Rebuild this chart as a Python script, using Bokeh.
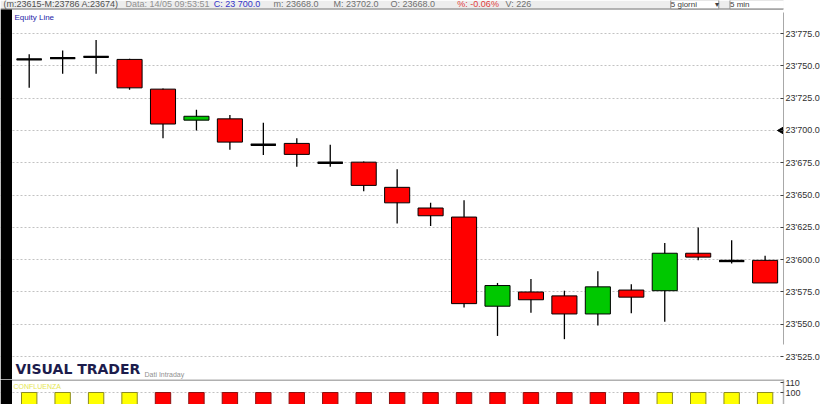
import numpy as np
from bokeh.plotting import figure
from bokeh.layouts import column
from bokeh.models import (ColumnDataSource, FixedTicker, Label, Span, BoxAnnotation, Range1d)
from bokeh.embed import file_html
from bokeh.resources import INLINE

# ---------------- data ----------------
idx = list(range(23))
opens  = [23755, 23756, 23757, 23755, 23732, 23708, 23709, 23689, 23690, 23675, 23675.5, 23656,
          23640, 23633, 23564, 23575, 23572, 23558, 23576.5, 23576, 23605, 23599, 23599.5]
closes = [23755, 23756, 23757, 23733, 23705, 23711, 23691, 23689, 23681.5, 23675, 23657.5, 23644,
          23634, 23566, 23580, 23569, 23558, 23579, 23571, 23605, 23602, 23599, 23582]
highs  = [23759, 23762, 23770, 23755.5, 23732.5, 23716, 23712, 23706, 23694, 23689, 23676, 23670,
          23644, 23646, 23582, 23585, 23576, 23591, 23581, 23613, 23625, 23615, 23603]
lows   = [23733, 23744, 23744, 23731.5, 23694, 23700, 23685, 23681, 23672, 23672, 23653, 23628,
          23626, 23563, 23541, 23559, 23538.5, 23549, 23558.5, 23552, 23599.5, 23597, 23582]
last_price = 23700.0

price_ticks = [23525, 23550, 23575, 23600, 23625, 23650, 23675, 23700, 23725, 23750, 23775]
price_tick_labels = ["23'525.0", "23'550.0", "23'575.0", "23'600.0", "23'625.0", "23'650.0",
                     "23'675.0", "23'700.0", "23'725.0", "23'750.0", "23'775.0"]

conf_values = [100] * 23
conf_state = ["Y", "Y", "Y", "Y", "R", "R", "R", "R", "R", "R", "R", "R", "R", "R", "R", "R",
              "R", "R", "R", "Y", "Y", "Y", "Y"]
conf_ticks = [100, 110]
conf_tick_labels = ["100", "110"]

header_items = [
    ("(m:23615-M:23786 A:23674)", -0.768, "#505050"),
    ("Data: 14/05 09:53:51", 2.88, "#909090"),
    ("C: 23 700.0", 5.515, "#3434c8"),
    ("m: 23668.0", 7.305, "#707070"),
    ("M: 23702.0", 9.1, "#707070"),
    ("O: 23668.0", 10.8, "#707070"),
    ("%: -0.06%", 12.8, "#e03c3c"),
    ("V: 226", 14.24, "#707070"),
]

# ---------------- styles ----------------
RED = "#ff0000"
GREEN = "#00c800"
FONT = "Liberation Sans"
PX = 33.45                      # pixels per candle slot
X0, X1 = -28.7 / PX, 22.55
NB = "\u00a0"

def body_color(o, c):
    if c > o:
        return GREEN
    if c < o:
        return RED
    return "black"

src = ColumnDataSource(dict(
    x=idx, o=opens, c=closes, h=highs, l=lows,
    top=[max(o, c) for o, c in zip(opens, closes)],
    bot=[min(o, c) for o, c in zip(opens, closes)],
    color=[body_color(o, c) for o, c in zip(opens, closes)],
))
doji = [i for i in idx if opens[i] == closes[i]]
doji_src = ColumnDataSource(dict(
    x0=[i - 0.375 for i in doji], x1=[i + 0.375 for i in doji],
    y=[opens[i] for i in doji],
))

p = figure(width=824, height=379, x_range=Range1d(X0, X1), y_range=Range1d(23507.28, 23800.6),
           output_backend="svg", toolbar_location=None, x_axis_location=None,
           y_axis_location="right", min_border_left=0, min_border_top=0,
           min_border_bottom=0, min_border_right=41)
p.outline_line_color = None
p.background_fill_color = "white"
p.border_fill_color = "white"
p.xgrid.visible = False
p.ygrid.ticker = FixedTicker(ticks=price_ticks)
p.ygrid.grid_line_color = "#c2c2c2"
p.ygrid.grid_line_dash = "2 2"
p.ygrid.grid_line_width = 1

ax = p.yaxis[0]
ax.ticker = FixedTicker(ticks=price_ticks)
ax.major_label_overrides = {t: s for t, s in zip(price_ticks, price_tick_labels)}
ax.bounds = (23534, 23791)
ax.major_tick_in = 3
ax.major_tick_out = 0
ax.minor_tick_line_color = None
ax.axis_line_color = "#a8a8a8"
ax.major_tick_line_color = "#404040"
ax.major_label_standoff = 2
ax.major_label_text_font = FONT
ax.major_label_text_font_size = "9px"
ax.major_label_text_color = "#303030"

# header strip
p.add_layout(BoxAnnotation(bottom=23794.0, fill_color="#ededed", fill_alpha=1, line_color=None))
p.add_layout(Span(location=23794.0, dimension="width", line_color="#707070", line_width=1))
for txt, xi, col in header_items:
    p.add_layout(Label(x=xi, y=23797.6, text=txt, text_font=FONT, text_font_size="9px",
                       text_color=col, text_baseline="middle"))
p.add_layout(Label(x=19.18, y=23797.6, text="5 giorni" + NB * 8 + "\u25BE", text_font=FONT,
                   text_font_size="8px", text_color="#404040", text_baseline="middle",
                   background_fill_color="white", border_line_color="#909090"))
p.add_layout(Label(x=20.95, y=23797.6, text="5 min" + NB * 20 + "\u25BE", text_font=FONT,
                   text_font_size="8px", text_color="#404040", text_baseline="middle",
                   background_fill_color="white", border_line_color="#909090"))

# wicks
p.segment(x0="x", x1="x", y0="l", y1="h", source=src, line_color="black", line_width=1.3)
# bodies
p.vbar(x="x", top="top", bottom="bot", width=0.75, source=src, fill_color="color",
       line_color="black", line_width=1)
# doji bars
p.segment(x0="x0", x1="x1", y0="y", y1="y", source=doji_src, line_color="black", line_width=2.4)

# current price marker
p.scatter(x=[X1 - 0.06], y=[last_price], marker="triangle", size=7, angle=np.pi / 2,
          color="black")

p.add_layout(Label(x=22.64, y=price_ticks[0], text=price_tick_labels[0], text_font=FONT,
                   text_font_size="9px", text_color="#303030", text_baseline="middle"))
p.add_layout(Label(x=-0.44, y=23787.5, text="Equity Line", text_font=FONT,
                   text_font_size="8px", text_color="#2424a8", text_baseline="middle"))
p.add_layout(Label(x=-0.41, y=23515.3, text="VISUAL TRADER", text_font="DejaVu Sans",
                   text_font_style="bold", text_font_size="14px", text_color="#1c1c4c",
                   text_baseline="middle"))
p.add_layout(Label(x=3.447, y=23511.5, text="Dati Intraday", text_font=FONT,
                   text_font_size="7px", text_color="#909090", text_baseline="middle"))
p.add_layout(BoxAnnotation(left=X0, right=X0 + 11.5 / PX, top=23793.6, fill_color="black",
                           fill_alpha=1, line_color=None))

# ---------------- bottom panel ----------------
q = figure(width=824, height=25, x_range=p.x_range, y_range=Range1d(88.0, 113.0),
           output_backend="svg", toolbar_location=None, x_axis_location=None,
           y_axis_location="right", min_border_left=0, min_border_top=0,
           min_border_bottom=0, min_border_right=41)
q.outline_line_color = None
q.xgrid.visible = False
q.ygrid.ticker = FixedTicker(ticks=[100])
q.ygrid.grid_line_color = "#c2c2c2"
q.ygrid.grid_line_dash = "2 2"
qa = q.yaxis[0]
qa.ticker = FixedTicker(ticks=conf_ticks)
qa.major_label_overrides = {t: s for t, s in zip(conf_ticks, conf_tick_labels)}
qa.major_tick_in = 3
qa.major_tick_out = 0
qa.minor_tick_line_color = None
qa.axis_line_color = "#b0b0b0"
qa.axis_line_width = 1.5
qa.major_tick_line_color = "#404040"
qa.major_label_standoff = 2
qa.major_label_text_font = FONT
qa.major_label_text_font_size = "9px"
qa.major_label_text_color = "#303030"

cmap = {"Y": ("#ffff00", "#8c8c20"), "R": ("#ff0000", "#8c1010")}
qsrc = ColumnDataSource(dict(
    x=idx, top=conf_values,
    fill=[cmap[s][0] for s in conf_state],
    line=[cmap[s][1] for s in conf_state],
))
q.vbar(x="x", top="top", bottom=0, width=0.46, source=qsrc, fill_color="fill",
       line_color="line", line_width=1)
q.add_layout(Span(location=112.6, dimension="width", line_color="#b0b0b0", line_width=2))
q.add_layout(Label(x=-0.47, y=106.5, text="CONFLUENZA", text_font=FONT, text_font_size="7px",
                   text_color="#e6e650", text_baseline="middle"))
q.add_layout(BoxAnnotation(left=X0, right=X0 + 11.5 / PX, fill_color="black", fill_alpha=1,
                           line_color=None))

layout = column(p, q, spacing=0)
open("out.html", "w").write(file_html(layout, INLINE))
